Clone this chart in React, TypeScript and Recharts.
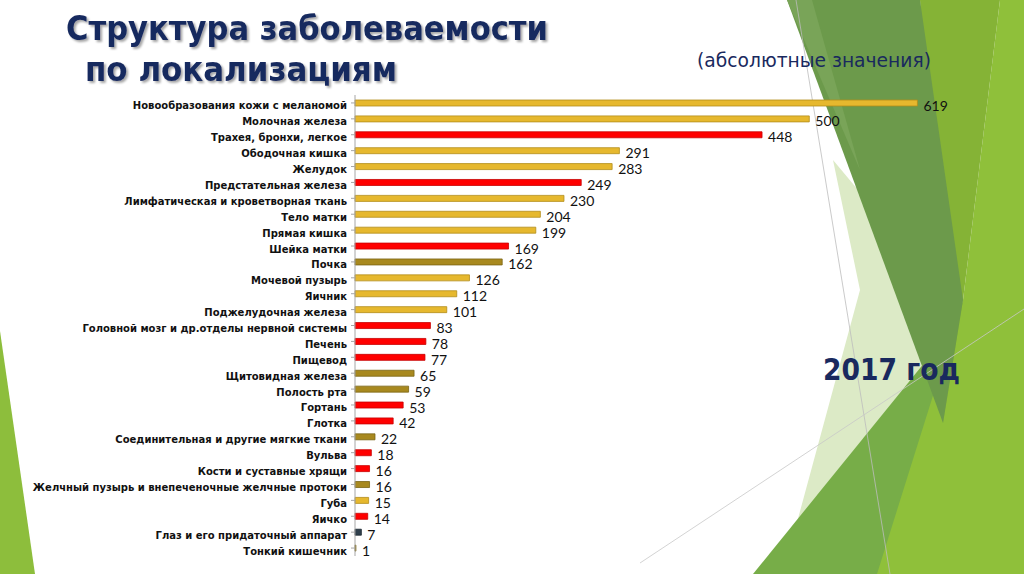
import React from "react";
import { BarChart, Bar, XAxis, YAxis, Cell, LabelList } from "recharts";

// локализации, сверху вниз
const sites = [
  "Новообразования кожи с меланомой",
  "Молочная железа",
  "Трахея, бронхи, легкое",
  "Ободочная кишка",
  "Желудок",
  "Предстательная железа",
  "Лимфатическая и кроветворная ткань",
  "Тело матки",
  "Прямая кишка",
  "Шейка матки",
  "Почка",
  "Мочевой пузырь",
  "Яичник",
  "Поджелудочная железа",
  "Головной мозг и др.отделы нервной системы",
  "Печень",
  "Пищевод",
  "Щитовидная железа",
  "Полость рта",
  "Гортань",
  "Глотка",
  "Соединительная и другие мягкие ткани",
  "Вульва",
  "Кости и суставные хрящи",
  "Желчный пузырь и внепеченочные желчные протоки",
  "Губа",
  "Яичко",
  "Глаз и его придаточный аппарат",
  "Тонкий кишечник",
];

const cases = [619, 500, 448, 291, 283, 249, 230, 204, 199, 169, 162, 126, 112, 101, 83, 78, 77, 65, 59, 53, 42, 22, 18, 16, 16, 15, 14, 7, 1];

// группа цвета столбца
const groups = ["y", "y", "r", "y", "y", "r", "y", "y", "y", "r", "o", "y", "y", "y", "r", "r", "r", "o", "o", "r", "r", "o", "r", "r", "o", "y", "r", "d", "o"];

const palette: Record<string, { fill: string; stroke: string }> = {
  y: { fill: "#E6B82E", stroke: "#B38D1A" },
  r: { fill: "#FF0000", stroke: "#C80000" },
  o: { fill: "#A8891F", stroke: "#7A6414" },
  d: { fill: "#2F3F4C", stroke: "#1C2730" },
};

const rows = sites.map((name, i) => ({ name, value: cases[i], group: groups[i] }));

const NAVY = "#19295E";

function SiteTick(props: any) {
  const { x, y, payload } = props;
  return (
    <text
      x={x}
      y={y + 3}
      textAnchor="end"
      dominantBaseline="central"
      fontFamily="DejaVu Sans"
      fontWeight="bold"
      fontSize={10}
      fill="#111"
    >
      {payload.value}
    </text>
  );
}

function ValueLabel(props: any) {
  const { x, y, width, height, value } = props;
  return (
    <text
      x={x + width + 6}
      y={y + height / 2 + 2}
      dominantBaseline="central"
      fontFamily="Lato"
      fontSize={14}
      fill="#111"
    >
      {value}
    </text>
  );
}

function Backdrop() {
  return (
    <svg width={1024} height={574} style={{ position: "absolute", left: 0, top: 0 }}>
      <defs>
        <filter id="sh" x="-5%" y="-20%" width="110%" height="150%">
          <feDropShadow dx="2" dy="2" stdDeviation="1" floodColor="#000" floodOpacity="0.35" />
        </filter>
      </defs>
      <polygon points="0,331 35,574 0,574" fill="#8DBE3C" />
      <polygon points="833,160 950,300 950,574 783,574 860,290" fill="#DCEAC6" />
      <polygon points="753,574 1024,240 1024,574" fill="#77AD48" />
      <polygon points="1000,0 1024,0 1024,574 877,574 963,300" fill="#8FC03A" />
      <polygon points="920,0 1000,0 963,300 943,423" fill="#85B336" />
      <polygon points="787,0 920,0 963,300 943,423" fill="#6C9A4B" />
      <polygon points="787,0 812,0 860,170" fill="#79A458" />
      <line x1={796} y1={0} x2={890} y2={574} stroke="#BDBDBD" strokeWidth={0.8} />
      <line x1={640} y1={563} x2={1024} y2={309} stroke="#C8C8C8" strokeWidth={0.8} />

      <g fill={NAVY} fontFamily="DejaVu Sans" fontWeight="bold" filter="url(#sh)">
        <text x={66} y={40} fontSize={33} textLength={482} lengthAdjust="spacingAndGlyphs">
          Структура заболеваемости
        </text>
        <text x={85} y={81} fontSize={33} textLength={312} lengthAdjust="spacingAndGlyphs">
          по локализациям
        </text>
      </g>
      <text x={697} y={67} fill={NAVY} fontFamily="DejaVu Sans" fontSize={20} textLength={234} lengthAdjust="spacingAndGlyphs">
        (абсолютные значения)
      </text>
      <text x={823} y={380} fill={NAVY} fontFamily="DejaVu Sans" fontWeight="bold" fontSize={31} textLength={137} lengthAdjust="spacingAndGlyphs">
        2017 год
      </text>
    </svg>
  );
}

export default function App() {
  return (
    <div style={{ position: "absolute", left: 0, top: 0, width: 1024, height: 574, background: "#fff", overflow: "hidden" }}>
      <Backdrop />
      <div style={{ position: "absolute", left: 0, top: 0 }}>
        <BarChart width={1024} height={574} data={rows} layout="vertical" margin={{ top: 95, right: 33, bottom: 18, left: 0 }}>
          <XAxis type="number" domain={[0, 700]} hide />
          <YAxis
            type="category"
            dataKey="name"
            width={355}
            interval={0}
            axisLine={{ stroke: "#A6A6A6" }}
            tickLine={{ stroke: "#A6A6A6" }}
            tickSize={4}
            tickMargin={4}
            tick={<SiteTick />}
          />
          <Bar dataKey="value" barSize={6} isAnimationActive={false}>
            {rows.map((r, i) => (
              <Cell key={i} fill={palette[r.group].fill} stroke={palette[r.group].stroke} strokeWidth={0.8} />
            ))}
            <LabelList dataKey="value" content={<ValueLabel />} />
          </Bar>
        </BarChart>
      </div>
    </div>
  );
}
